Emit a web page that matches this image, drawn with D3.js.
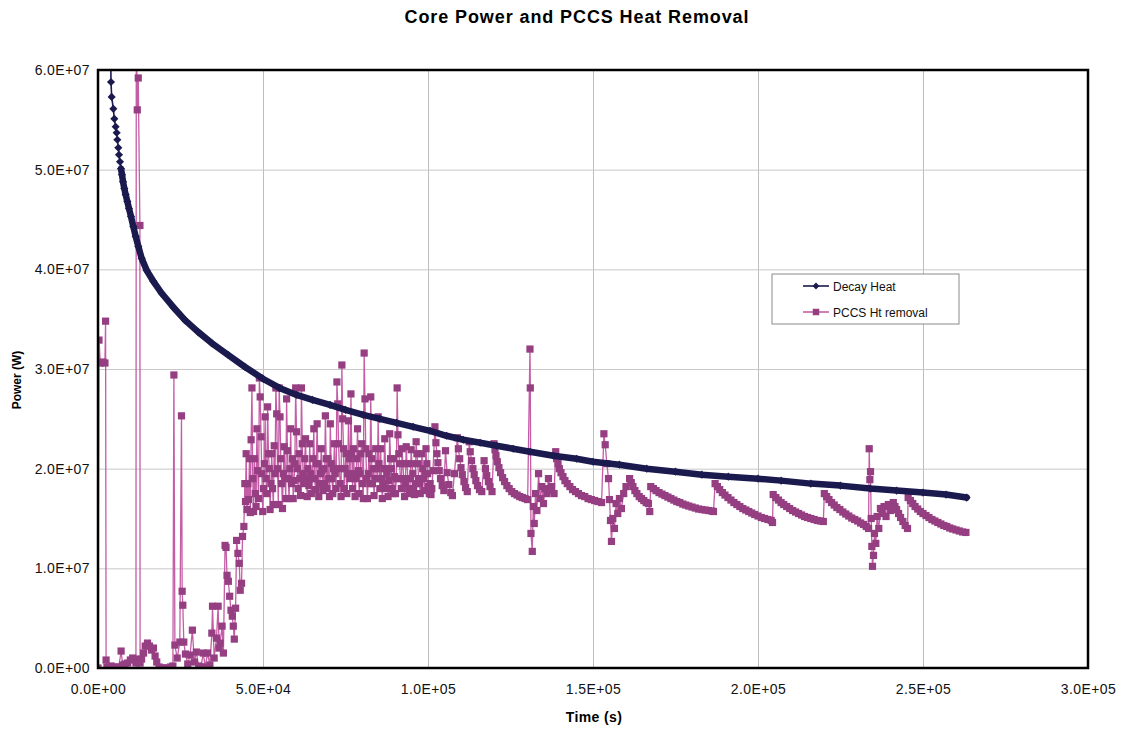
<!DOCTYPE html>
<html>
<head>
<meta charset="utf-8">
<script src="https://cdn.jsdelivr.net/npm/d3@7"></script>
<style>
  html, body { margin: 0; padding: 0; background: #ffffff; }
  svg { display: block; font-family: "Liberation Sans", Arial, sans-serif; }
</style>
</head>
<body>
<svg id="chart" width="1124" height="731"></svg>
<script>
// Decay heat: [time (s), power (MW)]
const decayHeat = [
  [3800,63],[3940,58.8],[4140,57.3],[4650,56.1],[4950,55.1],[5350,54.3],[5660,53.7],[5860,53.0],
  [6160,52.2],[6360,51.5],[6670,50.8],[6970,50.1],[7270,49.5],[7580,48.8],[7980,48.1],[8380,47.5],
  [8890,46.8],[9390,46.1],[10000,45.3],[10700,44.3],[11420,43.3],[12220,42.3],[13230,41.1],[14750,39.9],
  [16770,38.8],[19290,37.6],[22830,36.2],[26360,34.9],[30400,33.7],[34450,32.6],[39500,31.4],[44550,30.2],
  [50100,29.0],[55000,28.1],[60200,27.4],[65000,26.9],[70300,26.4],[75000,25.9],[80400,25.4],[85400,25.0],
  [90500,24.6],[95500,24.2],[100600,23.8],[105600,23.3],[110700,22.9],[115800,22.6],[120800,22.3],[125800,22.0],
  [130900,21.7],[138000,21.3],[145000,21.0],[150000,20.7],[158000,20.4],[166300,20.0],[175000,19.7],[183000,19.4],
  [191000,19.2],[200000,19.0],[207000,18.8],[216000,18.5],[225000,18.3],[234000,18.0],[242000,17.8],[250000,17.6],
  [257000,17.4],[263200,17.1]
];

// PCCS heat removal, early transient: [time (s), power (MW)]
const pccsEarly = [
  [0,0],[300,32.9],[700,30.6],[1500,30.7],[2100,30.6],[2300,34.8],[2450,0.8],[2700,0.1],[3300,0],[4000,0.2],
  [4700,0],[5500,0.1],[6300,0.1],[7000,1.7],[7500,0.3],[8200,0.4],[9000,0.5],[9800,0.8],[10500,1.0],[11200,0.9],
  [11500,0.5],[11600,65],[11900,56.0],[12200,59.2],[12700,44.4],[12750,0.5],[13200,0.9],[13800,1.5],[14300,2.2],[15000,2.5],
  [15600,2.2],[16200,1.8],[16800,2.0],[17300,1.2],[17800,0.6],[18500,0.1],[19300,0],[20200,0],[21000,0],[22000,0.1],
  [22700,0.2],[23000,29.4],[23300,2.3],[24000,1.0],[24800,2.6],[25300,25.3],[25500,7.7],[25700,6.3],[26000,2.6],[26500,1.4],
  [27200,0.4],[27900,1.3],[28600,3.8],[29200,0.6],[29800,1.6],[30500,0.2],[31200,0.1],[31900,1.5],[32500,0.1],[33200,1.5],
  [33900,0.3],[34500,3.5],[34700,6.2],[35200,1.0],[35900,3.0],[36400,6.2],[36700,2.0],[37000,2.5],[37600,4.2],[38000,1.5],
  [38500,12.3],[38800,12.1],[39100,9.3],[39500,8.7],[39900,7.2],[40300,5.8],[40700,5.2],[41000,4.2],[41300,2.9],[41700,6.0],
  [42000,12.8],[42400,11.5],[42800,10.5],[43100,7.8],[43500,8.5],[43800,13.2],[44200,14.2],[44500,18.5],[44700,16.7]
];

// PCCS heat removal, oscillating band: [time (s), power (MW)]
const pccsBand = [
  [44900,21.5],[45150,15.9],[45400,18.5],[45650,16.9],[45900,21.0],[46150,15.6],[46400,22.9],[46650,28.1],[46900,19.0],[47150,15.7],
  [47400,21.0],[47650,17.5],[47900,16.2],[48150,24.0],[48400,19.8],[48650,17.0],[48900,29.1],[49150,27.2],[49400,23.2],[49650,19.5],
  [49900,15.7],[50150,18.0],[50400,20.5],[50650,25.2],[50900,19.0],[51150,17.5],[51400,26.2],[51650,21.5],[51900,20.0],[52150,15.9],
  [52400,18.5],[52650,21.5],[52900,18.0],[53150,16.4],[53400,22.3],[53650,19.5],[53900,28.1],[54150,25.5],[54400,20.0],[54650,16.4],
  [54900,28.1],[55150,25.2],[55400,21.0],[55650,18.5],[55900,16.0],[56150,19.5],[56400,22.2],[56650,19.0],[56900,17.0],[57150,27.0],
  [57400,21.8],[57650,19.0],[57900,17.0],[58150,20.0],[58400,24.0],[58650,18.5],[58900,21.0],[59150,17.0],[59400,18.8],[59650,20.5],
  [59900,28.1],[60150,23.7],[60400,20.0],[60650,18.0],[60900,21.5],[61150,19.0],[61400,17.3],[61650,28.1],[61900,22.5],[62150,19.5],
  [62400,18.5],[62650,21.0],[62900,23.0],[63150,19.0],[63400,17.2],[63650,20.0],[63900,18.3],[64150,22.5],[64400,19.5],[64650,17.5],
  [64900,19.0],[65150,21.0],[65400,24.0],[65650,19.0],[65900,17.9],[66150,20.5],[66400,24.5],[66650,20.5],[66900,17.2],[67150,18.5],
  [67400,19.5],[67650,22.0],[67900,19.8],[68150,17.8],[68400,20.0],[68650,18.5],[68900,25.3],[69150,21.0],[69400,18.0],[69650,21.0],
  [69900,19.0],[70150,17.2],[70400,24.5],[70650,20.5],[70900,19.0],[71150,17.5],[71400,20.0],[71650,22.5],[71900,19.5],[72150,18.0],
  [72400,28.7],[72650,26.5],[72900,22.5],[73150,20.0],[73400,18.5],[73650,17.2],[73900,30.4],[74150,25.0],[74400,22.0],[74650,18.0],
  [74900,20.0],[75150,21.5],[75400,17.5],[75650,19.5],[75900,24.8],[76150,21.0],[76400,19.0],[76650,27.5],[76900,21.5],[77150,18.0],
  [77400,22.0],[77650,19.5],[77900,17.2],[78150,19.0],[78400,21.0],[78650,24.0],[78900,19.8],[79150,17.5],[79400,19.5],[79650,21.5],
  [79900,22.5],[80150,18.5],[80400,17.0],[80650,31.6],[80900,27.0],[81150,22.0],[81400,19.0],[81650,17.0],[81900,19.5],[82150,21.5],
  [82400,18.5],[82650,27.2],[82900,21.0],[83150,18.5],[83400,20.0],[83650,17.3],[83900,19.0],[84150,22.0],[84400,20.0],[84650,19.0],
  [84900,25.2],[85150,20.5],[85400,18.0],[85650,22.0],[85900,19.0],[86150,17.0],[86400,18.5],[86650,20.0],[86900,23.0],[87150,20.0],
  [87400,18.0],[87650,19.5],[87900,17.2],[88150,18.8],[88400,23.5],[88650,21.0],[88900,20.0],[89150,18.0],[89400,17.5],[89650,21.0],
  [89900,19.2],[90150,17.5],[90400,19.0],[90650,28.1],[90900,23.4],[91150,21.5],[91400,20.5],[91650,19.0],[91900,18.0],[92150,22.0],
  [92400,20.5],[92650,19.0],[92900,17.2],[93150,18.5],[93400,22.2],[93650,20.5],[93900,19.0],[94150,18.0],[94400,17.5],[94650,19.0],
  [94900,21.9],[95150,20.5],[95400,19.5],[95650,18.0],[95900,17.4],[96150,18.5],[96400,22.7],[96650,21.5],[96900,20.5],[97150,19.0],
  [97400,18.5],[97650,17.5],[97900,19.0],[98150,21.5],[98400,20.0],[98650,19.0],[98900,17.8],[99150,19.5],[99400,22.0],[99650,20.5],
  [99900,19.5],[100150,18.2],[100400,17.5],[100650,18.5],[100900,17.4],[101150,18.0],[101500,19.8]
];

// PCCS heat removal, cyclic recovery phase: [time (s), power (MW)]
const pccsCycles = [
  [102100,24.2],[102400,22.6],[102700,21.5],[103000,20.6],[103400,19.8],[103800,19.0],[104300,18.3],[104800,17.8],
  [105300,21.8],[105800,19.6],[106300,18.4],[106900,17.6],[107400,17.3],[108000,19.5],
  [108900,23.1],[109200,22.0],[109600,21.0],[110000,20.1],[110400,19.4],[110900,18.7],[111400,18.1],[111900,17.7],
  [112500,22.7],[112800,21.7],[113200,20.8],[113600,20.0],[114000,19.4],[114500,18.8],[115000,18.3],[115600,17.9],[116300,17.7],
  [117000,20.8],[117400,20.0],[117800,19.3],[118300,18.7],[118800,18.2],[119400,17.7],
  [120000,22.5],[120300,21.9],[120600,21.3],[121000,20.7],[121500,20.1],[122000,19.6],[122600,19.1],[123200,18.7],[123900,18.3],
  [124600,18.0],[125400,17.7],[126200,17.5],[127000,17.35],[127800,17.2],[128600,17.1],[129400,17.0],[130200,16.9],
  [130900,32.0],[131000,28.1],[131200,13.5],[131600,11.7],[131900,16.2],[132200,14.5],
  [132600,17.5],[133000,15.8],[133500,19.5],[134000,17.0],[134500,18.2],[135000,16.5],[135500,18.0],[136000,17.5],[136500,19.0],[137000,17.8],
  [137500,18.2],[138200,17.5],
  [138700,21.7],[139000,21.0],[139400,20.5],[139800,20.0],[140300,19.6],[140900,19.2],[141500,18.8],[142200,18.5],[143000,18.2],
  [143800,17.9],[144700,17.7],[145600,17.5],[146500,17.3],[147500,17.2],[148500,17.0],[149500,16.9],[150500,16.8],[151500,16.7],[152600,16.6],
  [153300,23.5],[153700,22.4],[154200,20.5],[154700,19.0],[155000,16.9],[155300,14.8],[155600,12.7],
  [156000,15.0],[156500,14.0],[157000,16.5],[157500,15.5],[158000,17.0],[158600,16.0],[159300,17.5],[160000,18.2],
  [161100,19.0],[161600,18.6],[162100,18.2],[162700,17.8],[163300,17.5],[164000,17.2],[164700,17.0],[165400,16.8],[166100,16.6],[166800,16.5],
  [167200,15.7],
  [167500,18.2],[168300,18.0],[169100,17.8],[170000,17.6],[170900,17.45],[171800,17.3],[172700,17.15],[173600,17.0],[174500,16.85],
  [175400,16.7],[176300,16.6],[177200,16.45],[178100,16.35],[179000,16.25],[180000,16.15],[181000,16.05],[182000,15.95],[183000,15.9],
  [184000,15.85],[185000,15.8],[186000,15.75],[186500,15.7],
  [187000,18.5],[187700,18.2],[188400,17.9],[189200,17.6],[190000,17.35],[190900,17.1],[191800,16.85],[192700,16.6],[193600,16.4],
  [194500,16.2],[195400,16.0],[196300,15.85],[197200,15.7],[198100,15.55],[199000,15.4],[200000,15.25],[201000,15.1],[202000,15.0],
  [203000,14.9],[204000,14.8],[204400,14.6],
  [204600,17.4],[205400,17.1],[206200,16.85],[207000,16.6],[207800,16.4],[208700,16.2],[209600,16.0],[210500,15.8],[211400,15.65],
  [212300,15.5],[213200,15.35],[214100,15.2],[215000,15.1],[216000,15.0],[217000,14.9],[218000,14.8],[219000,14.75],[219800,14.7],
  [220100,17.5],[220800,17.2],[221500,16.9],[222300,16.6],[223100,16.35],[223900,16.1],[224800,15.9],[225700,15.65],[226600,15.45],
  [227500,15.25],[228400,15.05],[229300,14.9],[230200,14.75],[231100,14.55],[232000,14.4],[232800,14.2],[233500,14.0],
  [233700,22.0],[233900,18.9],[234100,19.7],[234300,15.0],[234500,12.2],
  [234700,10.2],[235000,11.3],[235300,13.5],[235700,12.5],[236100,15.2],[236600,14.0],[237100,16.0],[237600,15.5],[238200,16.2],[238800,15.2],
  [239500,16.4],[240200,15.8],[241000,16.6],[241500,16.2],[242000,15.9],[242600,15.5],[243200,15.1],[243900,14.7],[244600,14.3],[245300,14.0],
  [245500,17.1],[246200,16.8],[246900,16.5],[247600,16.2],[248400,15.95],[249200,15.7],[250000,15.5],[250900,15.3],[251800,15.1],
  [252700,14.9],[253600,14.75],[254500,14.6],[255400,14.45],[256300,14.3],[257200,14.2],[258100,14.05],[259000,13.95],[260000,13.85],
  [261000,13.75],[262000,13.65],[263000,13.6]
];

const seriesNames = ["Decay Heat", "PCCS Ht removal"];
const xTicks = [0, 5e4, 1e5, 1.5e5, 2e5, 2.5e5, 3e5];
const xTickLabels = ["0.0E+00", "5.0E+04", "1.0E+05", "1.5E+05", "2.0E+05", "2.5E+05", "3.0E+05"];
const yTicks = [0, 1e7, 2e7, 3e7, 4e7, 5e7, 6e7];
const yTickLabels = ["0.0E+00", "1.0E+07", "2.0E+07", "3.0E+07", "4.0E+07", "5.0E+07", "6.0E+07"];

const pccsHeatRemoval = pccsEarly.concat(pccsBand, pccsCycles);

const MW = 1e6;
const decayColor = "#1b1a4e";
const pccsLine = "#c45ca6";
const pccsMarker = "#953f82";

const svg = d3.select("#chart");
const plot = { left: 98, right: 1088, top: 70, bottom: 668 };

const x = d3.scaleLinear().domain([0, 3e5]).range([plot.left, plot.right]);
const y = d3.scaleLinear().domain([0, 6e7]).range([plot.bottom, plot.top]);

// Title
svg.append("text")
  .attr("x", 577).attr("y", 23)
  .attr("text-anchor", "middle")
  .attr("font-size", 18).attr("font-weight", "bold")
  .attr("letter-spacing", 0.9)
  .text("Core Power and PCCS Heat Removal");

// Gridlines
svg.append("g")
  .attr("transform", `translate(0,${plot.bottom})`)
  .call(d3.axisBottom(x).tickValues(xTicks.slice(1, -1)).tickSize(-(plot.bottom - plot.top)).tickFormat(""))
  .call(g => g.select(".domain").remove())
  .call(g => g.selectAll("line").attr("stroke", "#bdbdbd").attr("stroke-width", 1));

svg.append("g")
  .attr("transform", `translate(${plot.left},0)`)
  .call(d3.axisLeft(y).tickValues(yTicks.slice(1, -1)).tickSize(-(plot.right - plot.left)).tickFormat(""))
  .call(g => g.select(".domain").remove())
  .call(g => g.selectAll("line").attr("stroke", "#c8c8c8").attr("stroke-width", 1));

// Tick labels
const labelFont = g => g.selectAll("text")
  .attr("font-size", 14).attr("letter-spacing", 0.4).attr("fill", "#111")
  .attr("font-family", "'Liberation Sans', Arial, sans-serif");

svg.append("g")
  .attr("transform", `translate(0,${plot.bottom})`)
  .call(d3.axisBottom(x).tickValues(xTicks).tickSize(0).tickPadding(16)
    .tickFormat((d, i) => xTickLabels[i]))
  .call(g => g.select(".domain").remove())
  .call(labelFont);

svg.append("g")
  .attr("transform", `translate(${plot.left},0)`)
  .call(d3.axisLeft(y).tickValues(yTicks).tickSize(0).tickPadding(8)
    .tickFormat((d, i) => yTickLabels[i]))
  .call(g => g.select(".domain").remove())
  .call(labelFont);

// Axis titles
svg.append("text")
  .attr("x", 594).attr("y", 722)
  .attr("text-anchor", "middle")
  .attr("font-size", 14).attr("font-weight", "bold")
  .attr("letter-spacing", 0.4)
  .text("Time (s)");

svg.append("text")
  .attr("transform", "translate(21,380) rotate(-90)")
  .attr("text-anchor", "middle")
  .attr("font-size", 12).attr("font-weight", "bold")
  .text("Power (W)");

// Clip region for the data
svg.append("defs").append("clipPath").attr("id", "plotClip")
  .append("rect")
  .attr("x", plot.left).attr("y", plot.top)
  .attr("width", plot.right - plot.left).attr("height", plot.bottom - plot.top);

const data = svg.append("g").attr("clip-path", "url(#plotClip)");

const line = d3.line().x(d => x(d[0])).y(d => y(d[1] * MW));

// PCCS heat removal series
data.append("path")
  .datum(pccsHeatRemoval)
  .attr("d", line)
  .attr("fill", "none")
  .attr("stroke", pccsLine)
  .attr("stroke-width", 1.3)
  .attr("stroke-linejoin", "round");

const square = d3.symbol(d3.symbolSquare, 52);
data.append("g").selectAll("path")
  .data(pccsHeatRemoval)
  .join("path")
  .attr("transform", d => `translate(${x(d[0])},${y(d[1] * MW)})`)
  .attr("d", square)
  .attr("fill", pccsMarker);

// Decay heat series: markers merge into a heavy band where points are dense
data.append("path")
  .datum(decayHeat)
  .attr("d", line)
  .attr("fill", "none")
  .attr("stroke", decayColor)
  .attr("stroke-width", 1.6);

data.append("path")
  .datum(decayHeat.filter(d => d[0] >= 6900))
  .attr("d", line)
  .attr("fill", "none")
  .attr("stroke", decayColor)
  .attr("stroke-width", 6.5)
  .attr("stroke-linecap", "round")
  .attr("stroke-linejoin", "round");

const diamond = d3.symbol(d3.symbolDiamond2, 42);
data.append("g").selectAll("path")
  .data(decayHeat)
  .join("path")
  .attr("transform", d => `translate(${x(d[0])},${y(d[1] * MW)})`)
  .attr("d", diamond)
  .attr("fill", decayColor);

// Plot frame
svg.append("rect")
  .attr("x", plot.left).attr("y", plot.top)
  .attr("width", plot.right - plot.left).attr("height", plot.bottom - plot.top)
  .attr("fill", "none")
  .attr("stroke", "#000")
  .attr("stroke-width", 2.5);

// Legend
const legend = svg.append("g").attr("transform", "translate(772,274)");
legend.append("rect")
  .attr("width", 187).attr("height", 50)
  .attr("fill", "#fff")
  .attr("stroke", "#8a8a8a").attr("stroke-width", 1);

const entries = [
  { name: seriesNames[0], color: decayColor, stroke: decayColor, symbol: d3.symbol(d3.symbolDiamond2, 30) },
  { name: seriesNames[1], color: pccsMarker, stroke: pccsLine, symbol: d3.symbol(d3.symbolSquare, 42) }
];
entries.forEach((e, i) => {
  const gy = 12 + i * 26;
  const row = legend.append("g").attr("transform", `translate(0,${gy})`);
  row.append("line")
    .attr("x1", 31).attr("x2", 57).attr("y1", 0).attr("y2", 0)
    .attr("stroke", e.stroke).attr("stroke-width", 1.6);
  row.append("path")
    .attr("transform", "translate(44,0)")
    .attr("d", e.symbol)
    .attr("fill", e.color);
  row.append("text")
    .attr("x", 61).attr("y", 4.5)
    .attr("font-size", 12)
    .attr("fill", "#111")
    .text(e.name);
});
</script>
</body>
</html>
